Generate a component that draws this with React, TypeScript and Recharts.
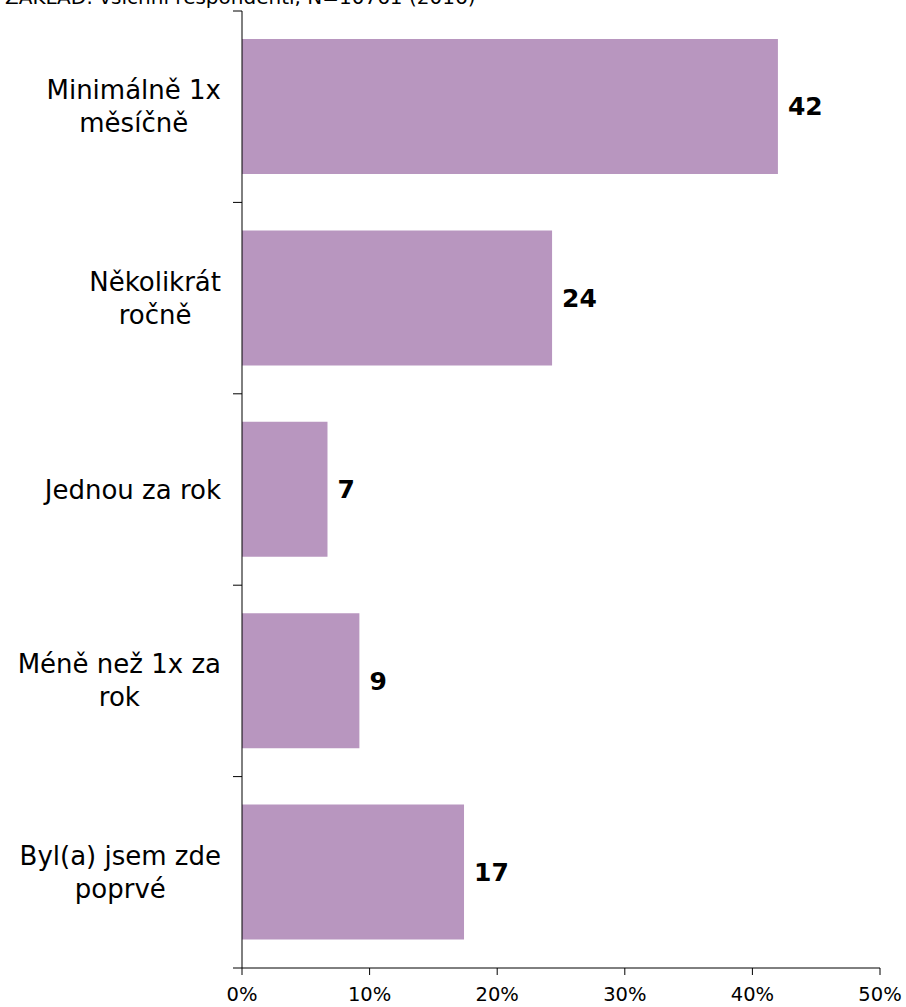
import { BarChart, Bar, XAxis, YAxis, LabelList } from "recharts";

const categories = [
  "Minimálně 1x\nměsíčně",
  "Několikrát\nročně",
  "Jednou za rok",
  "Méně než 1x za\nrok",
  "Byl(a) jsem zde\npoprvé",
];
const values = [42.0, 24.3, 6.7, 9.2, 17.4];
const valueLabels = ["42", "24", "7", "9", "17"];
const xTicks = [0, 10, 20, 30, 40, 50];
const baseNote = "ZÁKLAD: všichni respondenti, N=10761 (2016)";

const W = 906;
const H = 1007;
const TOP = 11;
const X_AXIS_H = 39;
const Y_AXIS_W = 242;
const BAR_COLOR = "#b896bf";
const FONT = "'DejaVu Sans', Verdana, sans-serif";
const CAT_FONT_SIZE = 26;
const LINE_H = 33;
const HALF_BAND = (H - TOP - X_AXIS_H) / categories.length / 2;

const data = categories.map((name, i) => ({
  name,
  value: values[i],
  label: valueLabels[i],
}));

let ctx: CanvasRenderingContext2D | null = null;
function textWidth(s: string) {
  if (!ctx) {
    ctx = document.createElement("canvas").getContext("2d");
    if (ctx) ctx.font = `${CAT_FONT_SIZE}px 'DejaVu Sans'`;
  }
  return ctx ? ctx.measureText(s).width : s.length * 14;
}

// category label: lines centred on each other, block right-aligned to the axis
function CategoryTick(props: any) {
  const { x, y, payload, index } = props;
  const lines = String(payload.value).split("\n");
  const widest = Math.max(...lines.map(textWidth));
  const cx = x - 21 - widest / 2;
  const first = y + 9 - ((lines.length - 1) * LINE_H) / 2;
  return (
    <g>
      <line x1={x - 9} x2={x} y1={y - HALF_BAND} y2={y - HALF_BAND} stroke="#000" />
      {index === categories.length - 1 ? (
        <line x1={x - 9} x2={x} y1={y + HALF_BAND} y2={y + HALF_BAND} stroke="#000" />
      ) : null}
      <text textAnchor="middle" fontSize={CAT_FONT_SIZE} fill="#000" fontFamily={FONT}>
        {lines.map((l, i) => (
          <tspan key={i} x={cx} y={first + i * LINE_H}>
            {l}
          </tspan>
        ))}
      </text>
    </g>
  );
}

export default function App() {
  return (
    <div style={{ position: "absolute", left: 0, top: 0, width: W, height: H, background: "#fff" }}>
      <svg width={W} height={30} style={{ position: "absolute", left: 0, top: 0 }}>
        <text x={5} y={4} fontSize={20} fontFamily={FONT} fill="#000">
          {baseNote}
        </text>
      </svg>
      <BarChart
        width={W}
        height={H}
        data={data}
        layout="vertical"
        margin={{ top: TOP, right: 26, bottom: 0, left: 0 }}
        style={{ fontFamily: FONT }}
      >
        <XAxis
          type="number"
          domain={[0, 50]}
          ticks={xTicks}
          tickFormatter={(v) => `${v}%`}
          height={X_AXIS_H}
          tickSize={7}
          tickMargin={12}
          stroke="#000"
          tick={{ fill: "#000", fontSize: 19.5 }}
          interval={0}
        />
        <YAxis
          type="category"
          dataKey="name"
          width={Y_AXIS_W}
          tickLine={false}
          tickSize={0}
          tickMargin={0}
          stroke="#000"
          tick={<CategoryTick />}
          interval={0}
        />
        <Bar dataKey="value" fill={BAR_COLOR} barSize={135} isAnimationActive={false}>
          <LabelList
            dataKey="label"
            position="right"
            offset={10}
            style={{ fontSize: 25, fontWeight: "bold", fill: "#000", fontFamily: FONT }}
          />
        </Bar>
      </BarChart>
    </div>
  );
}
